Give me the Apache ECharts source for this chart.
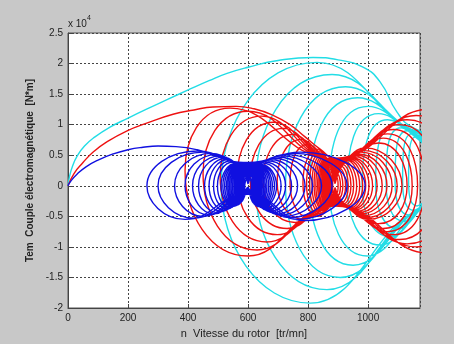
<!DOCTYPE html>
<html><head><meta charset="utf-8">
<script src="https://cdn.jsdelivr.net/npm/echarts@6/dist/echarts.min.js"></script>
<style>html,body{margin:0;padding:0;background:#c8c8c8;}#c{width:454px;height:344px;}</style>
</head><body><div id="c"></div>
<script>
// speed n [tr/mn], torque Tem [10^4 N*m]
const xTicks = [0, 200, 400, 600, 800, 1000];
const yTicks = [-2, -1.5, -1, -0.5, 0, 0.5, 1, 1.5, 2, 2.5];

const cyanArc = [[0,0],[5,0.15],[15,0.32],[30,0.48],[55,0.65],[90,0.8],[140,0.96],[197,1.1],[260,1.25],[330,1.41],[397,1.56],[470,1.72],[530,1.84],[600,1.94],[700,2.05],[817,2.1],[900,2.06],[983,1.94],[1040,1.7],[1097,1.2],[1150,0.95],[1230,0.85]];
const cyanLoops = [
[1340,1.2],[1480,0],[1340,-0.9],[1230,-0.35],[807,-1.92],[510,0],[830,2.02],
[1230,0.84],[1340,1.15],[1460,0],[1340,-0.85],[1230,-0.33],[863,-1.7],[625,0],[880,1.82],
[1230,0.82],[1330,1.1],[1440,0],[1330,-0.8],[1230,-0.31],[907,-1.5],[725,0],[925,1.62],
[1230,0.8],[1320,1.05],[1420,0],[1320,-0.75],[1230,-0.29],[950,-1.3],[805,0],[965,1.44],
[1230,0.77],[1310,1.0],[1400,0],[1310,-0.7],[1230,-0.27],[997,-1.15],[870,0],[1000,1.3],
[1230,0.74],[1300,0.95],[1380,0],[1300,-0.65],[1230,-0.25],[1040,-0.97],[930,0],[1035,1.18],
[1230,0.71],[1290,0.9],[1360,0],[1290,-0.6],[1230,-0.23],[1073,-0.83],[980,0],[1065,1.08],
[1230,0.68],[1280,0.85],[1340,0],[1280,-0.55],[1230,-0.21],[1100,-0.7],[1025,0.02],[1090,1.0],
[1230,0.65],[1270,0.8],[1320,0],[1270,-0.5],[1230,-0.19],[1120,-0.58],[1060,0.04],[1110,0.95],
[1230,0.62],[1265,0.75],[1300,0],[1265,-0.45],[1230,-0.17],[1138,-0.48],[1090,0.06],[1130,0.9],
[1230,0.6],[1260,0.7],[1290,0],[1260,-0.4],[1230,-0.15],[1152,-0.4],[1115,0.08],[1145,0.85],
[1230,0.57],[1255,0.65],[1280,0],[1255,-0.35],[1230,-0.13],[1163,-0.33],[1135,0.1],[1158,0.8],
[1230,0.55]
];

const redArc = [[0,0],[20,0.2],[50,0.38],[83,0.55],[130,0.72],[197,0.9],[260,1.02],[350,1.17],[420,1.24],[483,1.29],[560,1.3],[620,1.26],[680,1.16],[740,1.0],[790,0.8],[840,0.6]];
const redLoops = [
[890,0.45],[1200,1.25],[1420,0],[1200,-1.1],[890,-0.33],[600,-1.15],[390,0.25],[540,1.27],
[890,0.44],[1160,1.15],[1340,0],[1160,-1.0],[890,-0.32],[630,-1.05],[450,0.2],[600,1.22],
[890,0.43],[1130,1.08],[1280,0],[1130,-0.95],[890,-0.31],[663,-0.92],[507,0.15],[645,1.14],
[890,0.42],[1105,1.0],[1230,0],[1105,-0.88],[890,-0.3],[697,-0.8],[563,0.12],[685,1.04],
[890,0.41],[1085,0.92],[1190,0],[1085,-0.8],[890,-0.3],[730,-0.7],[607,0.1],[718,0.94],
[890,0.4],[1065,0.85],[1165,0],[1065,-0.75],[890,-0.29],[757,-0.6],[650,0.08],[748,0.84],
[890,0.39],[1050,0.78],[1147,0],[1050,-0.7],[890,-0.29],[785,-0.55],[697,0.06],[777,0.76],
[890,0.38],[1035,0.7],[1130,0],[1035,-0.62],[890,-0.28],[805,-0.52],[740,0.05],[800,0.68],
[890,0.37],[990,0.62],[1113,0],[1000,-0.55],[890,-0.28],[836,-0.5],[783,0.04],[834,0.6],
[890,0.35],[983,0.58],[1097,0],[993,-0.52],[890,-0.27],[842,-0.48],[795,0.03],[840,0.57],
[890,0.33],[976,0.55],[1080,0],[985,-0.49],[890,-0.26],[847,-0.46],[805,0.03],[845,0.54],
[890,0.31],[968,0.52],[1063,0],[976,-0.46],[890,-0.24],[851,-0.44],[813,0.02],[849,0.52],
[890,0.29],[961,0.5],[1047,0],[968,-0.44],[890,-0.22],[855,-0.42],[820,0.02],[853,0.5],
[890,0.27],[953,0.48],[1030,0],[960,-0.42],[890,-0.21],[858,-0.41],[826,0.01],[856,0.48],
[890,0.25],[946,0.46],[1015,0],[952,-0.4],[890,-0.2],[861,-0.4],[832,0.01],[859,0.46],
[890,0.23],[941,0.45],[1003,0],[946,-0.39],[890,-0.18],[863,-0.39],[837,0],[862,0.45],
[890,0.21],[936,0.44],[992,0],[941,-0.38],[890,-0.16],[866,-0.38],[842,0],[864,0.44],
[890,0.19],[931,0.43],[982,0],[936,-0.37],[890,-0.15],[868,-0.37],[847,0],[866,0.43],
[890,0.17],[927,0.42],[972,0],[931,-0.36],[890,-0.13],[870,-0.36],[851,0],[868,0.42],
[890,0.15],[922,0.4],[962,0],[926,-0.34],[890,-0.12],[872,-0.35],[855,0],[870,0.4],
[890,0.13],[918,0.38],[952,0],[921,-0.32],[890,-0.1],[874,-0.33],[859,0],[872,0.38],
[890,0.11],[914,0.35],[943,0],[916,-0.3],[890,-0.09],[876,-0.31],[863,0],[874,0.36],
[890,0.09],[910,0.32],[934,0],[912,-0.27],[890,-0.08],[878,-0.28],[867,0],[876,0.33],
[890,0.08],[906,0.28],[925,0],[907,-0.24],[890,-0.07],[880,-0.25],[871,0],[878,0.3],
[890,0.06],[902,0.24],[916,0],[903,-0.2],[890,-0.05],[882,-0.22],[875,0],[880,0.26],
[890,0.05],[898,0.19],[908,0],[899,-0.16],[890,-0.04],[884,-0.18],[879,0],[882,0.21],
[890,0.04],[895,0.14],[900,0],[895,-0.12],[890,-0.03],[886,-0.13],[882,0],[884,0.15],
[890,0.03]
];

const blueArc = [[0,0],[10,0.08],[30,0.19],[60,0.31],[100,0.42],[150,0.52],[200,0.59],[250,0.63],[300,0.65],[360,0.64],[430,0.59]];
const blueLoops = [
[600,0.38],[775,0.55],[990,0],[790,-0.57],[600,-0.14],[390,-0.55],[263,0],[430,0.57],
[600,0.36],[750,0.53],[930,0],[765,-0.55],[600,-0.13],[420,-0.53],[300,0],[450,0.55],
[600,0.34],[725,0.51],[880,0],[740,-0.52],[600,-0.12],[450,-0.50],[355,0],[478,0.53],
[600,0.32],[710,0.49],[845,0],[722,-0.50],[600,-0.11],[470,-0.48],[390,0],[495,0.51],
[600,0.30],[697,0.47],[815,0],[707,-0.48],[600,-0.10],[487,-0.46],[415,0],[508,0.49],
[600,0.28],[685,0.45],[790,0],[695,-0.46],[600,-0.09],[500,-0.44],[435,0],[518,0.47],
[600,0.26],[674,0.43],[765,0],[682,-0.44],[600,-0.08],[513,-0.42],[455,0],[528,0.45],
[600,0.24],[665,0.41],[745,0],[672,-0.42],[600,-0.08],[522,-0.40],[470,0],[535,0.43],
[600,0.22],[656,0.39],[725,0],[662,-0.40],[600,-0.07],[531,-0.38],[485,0],[543,0.41],
[600,0.20],[649,0.37],[710,0],[655,-0.38],[600,-0.07],[539,-0.36],[498,0],[549,0.39],
[600,0.18],[643,0.35],[695,0],[648,-0.36],[600,-0.06],[550,-0.34],[510,0],[560,0.37],
[600,0.17],[640,0.345],[688,0],[644,-0.355],[600,-0.058],[553,-0.335],[516,0],[563,0.365],
[600,0.16],[636,0.34],[681,0],[641,-0.35],[600,-0.056],[556,-0.33],[522,0],[566,0.36],
[600,0.15],[634,0.335],[675,0],[638,-0.345],[600,-0.054],[559,-0.325],[528,0],[569,0.355],
[600,0.14],[631,0.33],[669,0],[635,-0.34],[600,-0.052],[562,-0.32],[533,0],[571,0.35],
[600,0.13],[628,0.325],[663,0],[632,-0.335],[600,-0.05],[564,-0.315],[538,0],[573,0.345],
[600,0.12],[626,0.32],[658,0],[629,-0.33],[600,-0.048],[567,-0.31],[543,0],[575,0.34],
[600,0.11],[624,0.315],[653,0],[627,-0.32],[600,-0.046],[569,-0.3],[548,0],[577,0.33],
[600,0.10],[622,0.31],[648,0],[624,-0.31],[600,-0.044],[572,-0.29],[553,0],[579,0.32],
[600,0.09],[620,0.3],[644,0],[622,-0.3],[600,-0.042],[574,-0.28],[557,0],[581,0.31],
[600,0.08],[618,0.29],[640,0],[620,-0.29],[600,-0.04],[576,-0.27],[561,0],[583,0.3],
[600,0.075],[616,0.28],[636,0],[618,-0.28],[600,-0.038],[578,-0.26],[565,0],[585,0.29],
[600,0.07],[614,0.27],[632,0],[616,-0.27],[600,-0.036],[580,-0.25],[569,0],[587,0.28],
[600,0.06],[613,0.25],[628,0],[614,-0.25],[600,-0.034],[582,-0.23],[573,0],[589,0.26],
[600,0.055],[611,0.23],[624,0],[612,-0.23],[600,-0.032],[584,-0.21],[577,0],[591,0.24],
[600,0.05],[609,0.2],[620,0],[610,-0.2],[600,-0.03],[585,-0.18],[580,0],[592,0.21],
[600,0.045],[608,0.17],[617,0],[609,-0.17],[600,-0.028],[587,-0.15],[583,0],[593,0.18],
[600,0.04],[606,0.13],[614,0],[607,-0.13],[600,-0.026],[588,-0.12],[586,0],[595,0.14],
[600,0.035],[605,0.1],[611,0],[606,-0.1],[600,-0.024],[590,-0.09],[589,0],[596,0.1],
[600,0.03]
];

const FONT = 'Liberation Sans, Arial, sans-serif';
function mk(name, color, arc, loops) {
  return {
    name: name, type: 'line', data: arc.concat(loops), showSymbol: false, smooth: 0.5,
    silent: true, clip: true, lineStyle: { color: color, width: 1.4 }
  };
}
const chart = echarts.init(document.getElementById('c'), null, { renderer: 'canvas' });
chart.setOption({
  animation: false,
  backgroundColor: '#c8c8c8',
  grid: { left: 68, top: 33, width: 352, height: 277, show: true, backgroundColor: '#ffffff', borderColor: '#555', borderWidth: 1 },
  graphic: [
    { type: 'text', left: 68, top: 19, style: { text: 'x 10', font: '10px ' + FONT, fill: '#222' } },
    { type: 'text', left: 87, top: 15, style: { text: '4', font: '7px ' + FONT, fill: '#222' } }
  ],
  xAxis: {
    type: 'value', min: 0, max: 1173, interval: 200,
    axisLine: { show: true, onZero: false, lineStyle: { color: '#444' } },
    axisTick: { show: true, inside: true, length: 4, lineStyle: { color: '#444' } },
    axisLabel: { color: '#222', fontSize: 10, fontFamily: FONT, margin: 5, showMaxLabel: false,
      formatter: function (v) { return xTicks.indexOf(v) >= 0 ? String(v) : ''; } },
    splitLine: { show: true, lineStyle: { color: '#444', type: [2, 2], width: 1 } },
    name: 'n  Vitesse du rotor  [tr/mn]', nameLocation: 'middle', nameGap: 20,
    nameTextStyle: { color: '#222', fontSize: 11, fontFamily: FONT }
  },
  yAxis: {
    type: 'value', min: -2, max: 2.5, interval: 0.5,
    axisLine: { show: true, onZero: false, lineStyle: { color: '#444' } },
    axisTick: { show: true, inside: true, length: 4, lineStyle: { color: '#444' } },
    axisLabel: { color: '#222', fontSize: 10, fontFamily: FONT, margin: 5,
      formatter: function (v) { const r = Math.round(v * 10) / 10; return yTicks.indexOf(r) >= 0 ? String(r) : ''; } },
    splitLine: { show: true, lineStyle: { color: '#444', type: [2, 2], width: 1 } },
    name: 'Tem  Couple électromagnétique  [N*m]', nameLocation: 'middle', nameGap: 21, nameRotate: 90,
    nameTextStyle: { color: '#222', fontSize: 10, fontWeight: 'bold', fontFamily: FONT }
  },
  series: [
    mk('cyan', '#22dde6', cyanArc, cyanLoops),
    mk('red', '#ee1111', redArc, redLoops),
    mk('blue', '#1010e0', blueArc, blueLoops)
  ]
});
</script></body></html>
